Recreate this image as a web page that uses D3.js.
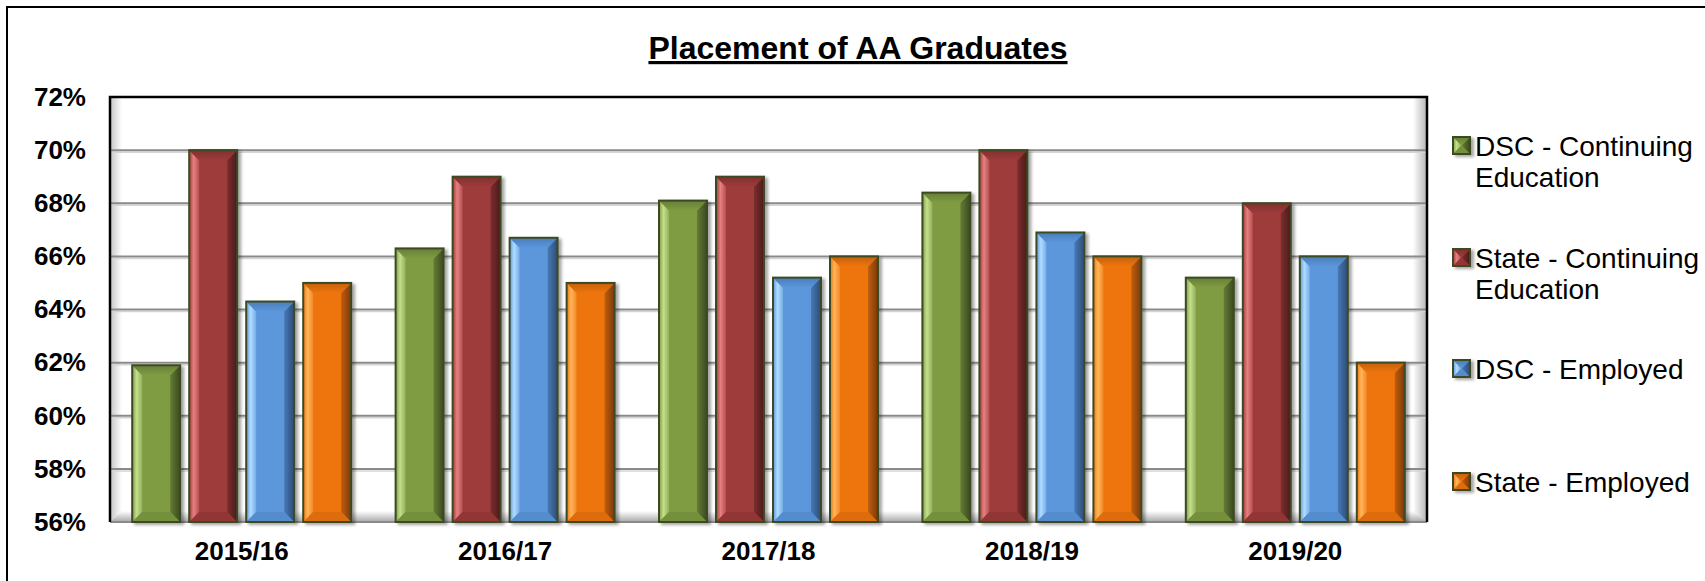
<!DOCTYPE html>
<html>
<head>
<meta charset="utf-8">
<script src="https://cdn.jsdelivr.net/npm/d3@7"></script>
<style>
  body { margin: 0; background: #fff; }
  svg { display: block; }
</style>
</head>
<body>
<div id="chart"></div>
<script>
// data
var categories = ["2015/16", "2016/17", "2017/18", "2018/19", "2019/20"];
var seriesNames = ["DSC - Continuing Education", "State - Continuing Education", "DSC - Employed", "State - Employed"];
var dscContinuing = [61.9, 66.3, 68.1, 68.4, 65.2];
var stateContinuing = [70, 69, 69, 70, 68];
var dscEmployed = [64.3, 66.7, 65.2, 66.9, 66.0];
var stateEmployed = [65, 65, 66, 66, 62];
var yTicks = [56, 58, 60, 62, 64, 66, 68, 70, 72];
var chartTitle = "Placement of AA Graduates";

// base / light / dark shade per series
var seriesColors = [
  ["#7f9c43", "#c2df8c", "#3b4a20"],
  ["#9e3b3b", "#e88080", "#4a1b1b"],
  ["#5b97dc", "#b0dcff", "#2c4c78"],
  ["#ee750f", "#ffb55a", "#7a3a06"]
];

var W = 1705, H = 581;
var margin = {left: 110, top: 97, right: 1427, bottom: 522};

var svg = d3.select("#chart").append("svg")
  .attr("width", W).attr("height", H)
  .style("font-family", "Arial, 'Liberation Sans', sans-serif");

var defs = svg.append("defs");

// gradients for bevelled bars
seriesColors.forEach(function(c, i) {
  var g = defs.append("linearGradient").attr("id", "body" + i).attr("x1", 0).attr("x2", 1).attr("y1", 0).attr("y2", 0);
  g.append("stop").attr("offset", "0%").attr("stop-color", c[0]);
  g.append("stop").attr("offset", "85%").attr("stop-color", c[0]);
  g.append("stop").attr("offset", "100%").attr("stop-color", d3.interpolateRgb(c[0], c[2])(0.5));

  g = defs.append("linearGradient").attr("id", "left" + i).attr("x1", 0).attr("x2", 1).attr("y1", 0).attr("y2", 0);
  g.append("stop").attr("offset", "0%").attr("stop-color", c[0]);
  g.append("stop").attr("offset", "45%").attr("stop-color", c[1]);
  g.append("stop").attr("offset", "100%").attr("stop-color", d3.interpolateRgb(c[0], c[1])(0.3));

  g = defs.append("linearGradient").attr("id", "right" + i).attr("x1", 0).attr("x2", 1).attr("y1", 0).attr("y2", 0);
  g.append("stop").attr("offset", "0%").attr("stop-color", d3.interpolateRgb(c[0], c[2])(0.4));
  g.append("stop").attr("offset", "100%").attr("stop-color", c[2]);

  g = defs.append("linearGradient").attr("id", "top" + i).attr("x1", 0).attr("x2", 0).attr("y1", 0).attr("y2", 1);
  g.append("stop").attr("offset", "0%").attr("stop-color", d3.interpolateRgb(c[0], c[2])(0.35));
  g.append("stop").attr("offset", "100%").attr("stop-color", c[0]);
});

var shadow = defs.append("filter").attr("id", "shadow")
  .attr("x", "-20%").attr("y", "-20%").attr("width", "150%").attr("height", "150%");
shadow.append("feDropShadow").attr("dx", 3).attr("dy", 2).attr("stdDeviation", 1.5)
  .attr("flood-color", "#000").attr("flood-opacity", 0.35);

var lw = defs.append("linearGradient").attr("id", "leftWall").attr("x1", 0).attr("x2", 1);
lw.append("stop").attr("offset", "0%").attr("stop-color", "#c4c4c4");
lw.append("stop").attr("offset", "100%").attr("stop-color", "#fff");
var rw = defs.append("linearGradient").attr("id", "rightWall").attr("x1", 0).attr("x2", 1);
rw.append("stop").attr("offset", "0%").attr("stop-color", "#fff");
rw.append("stop").attr("offset", "100%").attr("stop-color", "#b4b4b4");
var fl = defs.append("linearGradient").attr("id", "floor").attr("x1", 0).attr("x2", 0).attr("y1", 0).attr("y2", 1);
fl.append("stop").attr("offset", "0%").attr("stop-color", "#fff");
fl.append("stop").attr("offset", "100%").attr("stop-color", "#a8a8a8");

// outer frame (runs off the right and bottom)
svg.append("rect").attr("x", 7).attr("y", 7).attr("width", 1800).attr("height", 700)
  .attr("fill", "none").attr("stroke", "#000").attr("stroke-width", 2);

// title
svg.append("text")
  .attr("x", 858).attr("y", 59)
  .attr("text-anchor", "middle")
  .attr("font-size", 32).attr("font-weight", "bold")
  .style("text-decoration", "underline")
  .text(chartTitle);

// scales
var x0 = d3.scaleBand().domain(categories)
  .range([margin.left, margin.right])
  .paddingInner(0.1686).paddingOuter(0.0843);
var x1 = d3.scaleBand().domain(d3.range(seriesNames.length))
  .range([0, x0.bandwidth()])
  .paddingInner(0.158);
var y = d3.scaleLinear().domain([56, 72]).range([margin.bottom, margin.top]);

// walls and floor
svg.append("rect").attr("x", margin.left).attr("y", margin.top)
  .attr("width", 12).attr("height", margin.bottom - margin.top).attr("fill", "url(#leftWall)");
svg.append("rect").attr("x", margin.right - 14).attr("y", margin.top)
  .attr("width", 14).attr("height", margin.bottom - margin.top).attr("fill", "url(#rightWall)");
svg.append("path")
  .attr("d", "M" + margin.left + "," + margin.bottom + "L" + (margin.left + 12) + "," + (margin.bottom - 11) +
    "L" + (margin.right - 14) + "," + (margin.bottom - 11) + "L" + margin.right + "," + margin.bottom + "Z")
  .attr("fill", "url(#floor)");

// gridlines
var grid = svg.append("g");
yTicks.filter(function(t) { return t > 56 && t < 72; }).forEach(function(t) {
  grid.append("line").attr("x1", margin.left).attr("x2", margin.right)
    .attr("y1", y(t) + 2).attr("y2", y(t) + 2)
    .attr("stroke", "#d4d4d4").attr("stroke-width", 1.5);
  grid.append("line").attr("x1", margin.left).attr("x2", margin.right)
    .attr("y1", y(t)).attr("y2", y(t))
    .attr("stroke", "#8a8a8a").attr("stroke-width", 2);
});
svg.append("line").attr("x1", margin.left).attr("x2", margin.right)
  .attr("y1", margin.bottom).attr("y2", margin.bottom)
  .attr("stroke", "#8a8a8a").attr("stroke-width", 2);

// plot border: top, left, right
svg.append("path")
  .attr("d", "M" + margin.left + "," + margin.bottom + "V" + margin.top + "H" + margin.right + "V" + margin.bottom)
  .attr("fill", "none").attr("stroke", "#000").attr("stroke-width", 2.5);

// bevelled box
function bevel(g, bx, by, bw, bh, i, b) {
  b = Math.min(b, bw / 2, bh / 2);
  var gg = g.append("g").attr("filter", "url(#shadow)");
  gg.append("rect").attr("x", bx).attr("y", by).attr("width", bw).attr("height", bh)
    .attr("fill", "url(#body" + i + ")");
  gg.append("polygon").attr("points", [[bx, by], [bx + b, by + b], [bx + b, by + bh - b], [bx, by + bh]].join(" "))
    .attr("fill", "url(#left" + i + ")");
  gg.append("polygon").attr("points", [[bx + bw, by], [bx + bw - b, by + b], [bx + bw - b, by + bh - b], [bx + bw, by + bh]].join(" "))
    .attr("fill", "url(#right" + i + ")");
  gg.append("polygon").attr("points", [[bx, by], [bx + bw, by], [bx + bw - b, by + b], [bx + b, by + b]].join(" "))
    .attr("fill", "url(#top" + i + ")");
  gg.append("polygon").attr("points", [[bx, by + bh], [bx + bw, by + bh], [bx + bw - b, by + bh - b], [bx + b, by + bh - b]].join(" "))
    .attr("fill", d3.interpolateRgb(seriesColors[i][0], seriesColors[i][2])(0.15));
  gg.append("rect").attr("x", bx).attr("y", by).attr("width", bw).attr("height", bh)
    .attr("fill", "none").attr("stroke", "#3c4a22").attr("stroke-width", 2);
}

// bars
var seriesValues = [dscContinuing, stateContinuing, dscEmployed, stateEmployed];
var rows = [];
categories.forEach(function(cat, ci) {
  seriesValues.forEach(function(vals, si) {
    rows.push({cat: cat, s: si, v: vals[ci]});
  });
});
var bars = svg.append("g");
rows.forEach(function(d) {
  var bx = x0(d.cat) + x1(d.s);
  bevel(bars, bx, y(d.v), x1.bandwidth(), y(56) - y(d.v), d.s, 10);
});

// axes
var yAxis = svg.append("g")
  .attr("transform", "translate(" + margin.left + ",0)")
  .call(d3.axisLeft(y).tickValues(yTicks).tickSize(0).tickPadding(24).tickFormat(function(d) { return d + "%"; }));
yAxis.select(".domain").remove();
yAxis.selectAll("text").attr("font-size", 26).attr("font-weight", "bold").attr("fill", "#000")
  .style("font-family", "Arial, 'Liberation Sans', sans-serif");

var xAxis = svg.append("g")
  .attr("transform", "translate(0," + margin.bottom + ")")
  .call(d3.axisBottom(x0).tickSize(0).tickPadding(20));
xAxis.select(".domain").remove();
xAxis.selectAll("text").attr("font-size", 26).attr("font-weight", "bold").attr("fill", "#000")
  .style("font-family", "Arial, 'Liberation Sans', sans-serif");

// legend
var legendY = [146, 258, 369, 482];
var legend = svg.append("g").attr("font-size", 28);
seriesNames.forEach(function(name, i) {
  var g = legend.append("g").attr("transform", "translate(1453," + legendY[i] + ")");
  bevel(g, 0, -9, 17, 17, i, 8);
  var t = g.append("text").attr("x", 22).attr("y", 0).attr("fill", "#000");
  // simple word wrap
  var words = name.split(" "), line = [];
  var span = t.append("tspan").attr("x", 22).attr("dy", "0.35em");
  words.forEach(function(w) {
    line.push(w);
    span.text(line.join(" "));
    if (span.node().getComputedTextLength() > 236 && line.length > 1) {
      line.pop();
      span.text(line.join(" "));
      line = [w];
      span = t.append("tspan").attr("x", 22).attr("dy", "1.1em").text(w);
    }
  });
});
</script>
</body>
</html>
